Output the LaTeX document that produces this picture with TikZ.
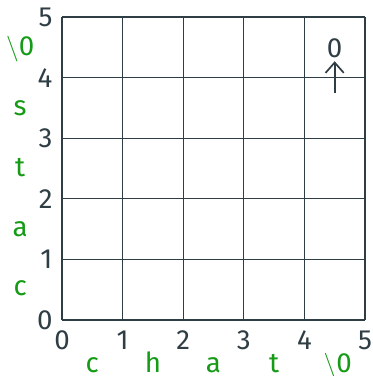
\documentclass[tikz,border=0pt]{standalone}
\usepackage{fontspec}
\setmainfont{Fira Sans}
\usetikzlibrary{arrows.meta}
\definecolor{ink}{HTML}{2F3E44}
\definecolor{lgreen}{HTML}{159B15}
\newcommand{\nulchar}{\ensuremath{\backslash}0}
\begin{document}
\begin{tikzpicture}[x=1cm,y=1cm,
  every node/.style={font=\fontsize{13}{15}\selectfont, text=ink, inner sep=0pt},
  gridline/.style={draw=ink, line width=0.55pt},
  num/.style={},
  letter/.style={text=lgreen, anchor=base},
  ptr/.style={draw=ink, line width=0.8pt, -{Straight Barb[length=1.7mm,width=3mm]}}]
\useasboundingbox (-1.023,-0.924) rectangle (5.132,5.281);
\fill[white] (-1.023,-0.924) rectangle (5.132,5.281);
\draw[gridline] (0,0) grid (5,5);
\foreach \i in {0,...,5} {
  \node[num, anchor=north] (xn\i) at (\i,-0.17) {\i};
  \node[num, anchor=east] (yn\i) at (-0.15,\i) {\i};
}
\node[letter] (b1) at (0.5,-0.86) {c};
\node[letter] (b2) at (1.5,-0.86) {h};
\node[letter] (b3) at (2.5,-0.86) {a};
\node[letter] (b4) at (3.5,-0.86) {t};
\node[letter] (b5) at (4.55,-0.86) {\nulchar};
\node[letter] (l1) at (-0.69,0.40) {c};
\node[letter] (l2) at (-0.69,1.37) {a};
\node[letter] (l3) at (-0.69,2.37) {t};
\node[letter] (l4) at (-0.69,3.37) {s};
\node[letter] (l5) at (-0.69,4.37) {\nulchar};
\node (z) at (4.5,4.49) {0};
\coordinate (ps) at (4.5,3.75);
\coordinate (pt) at (4.5,4.27);
\draw[ptr] (ps) -- (pt);
\end{tikzpicture}
\end{document}
